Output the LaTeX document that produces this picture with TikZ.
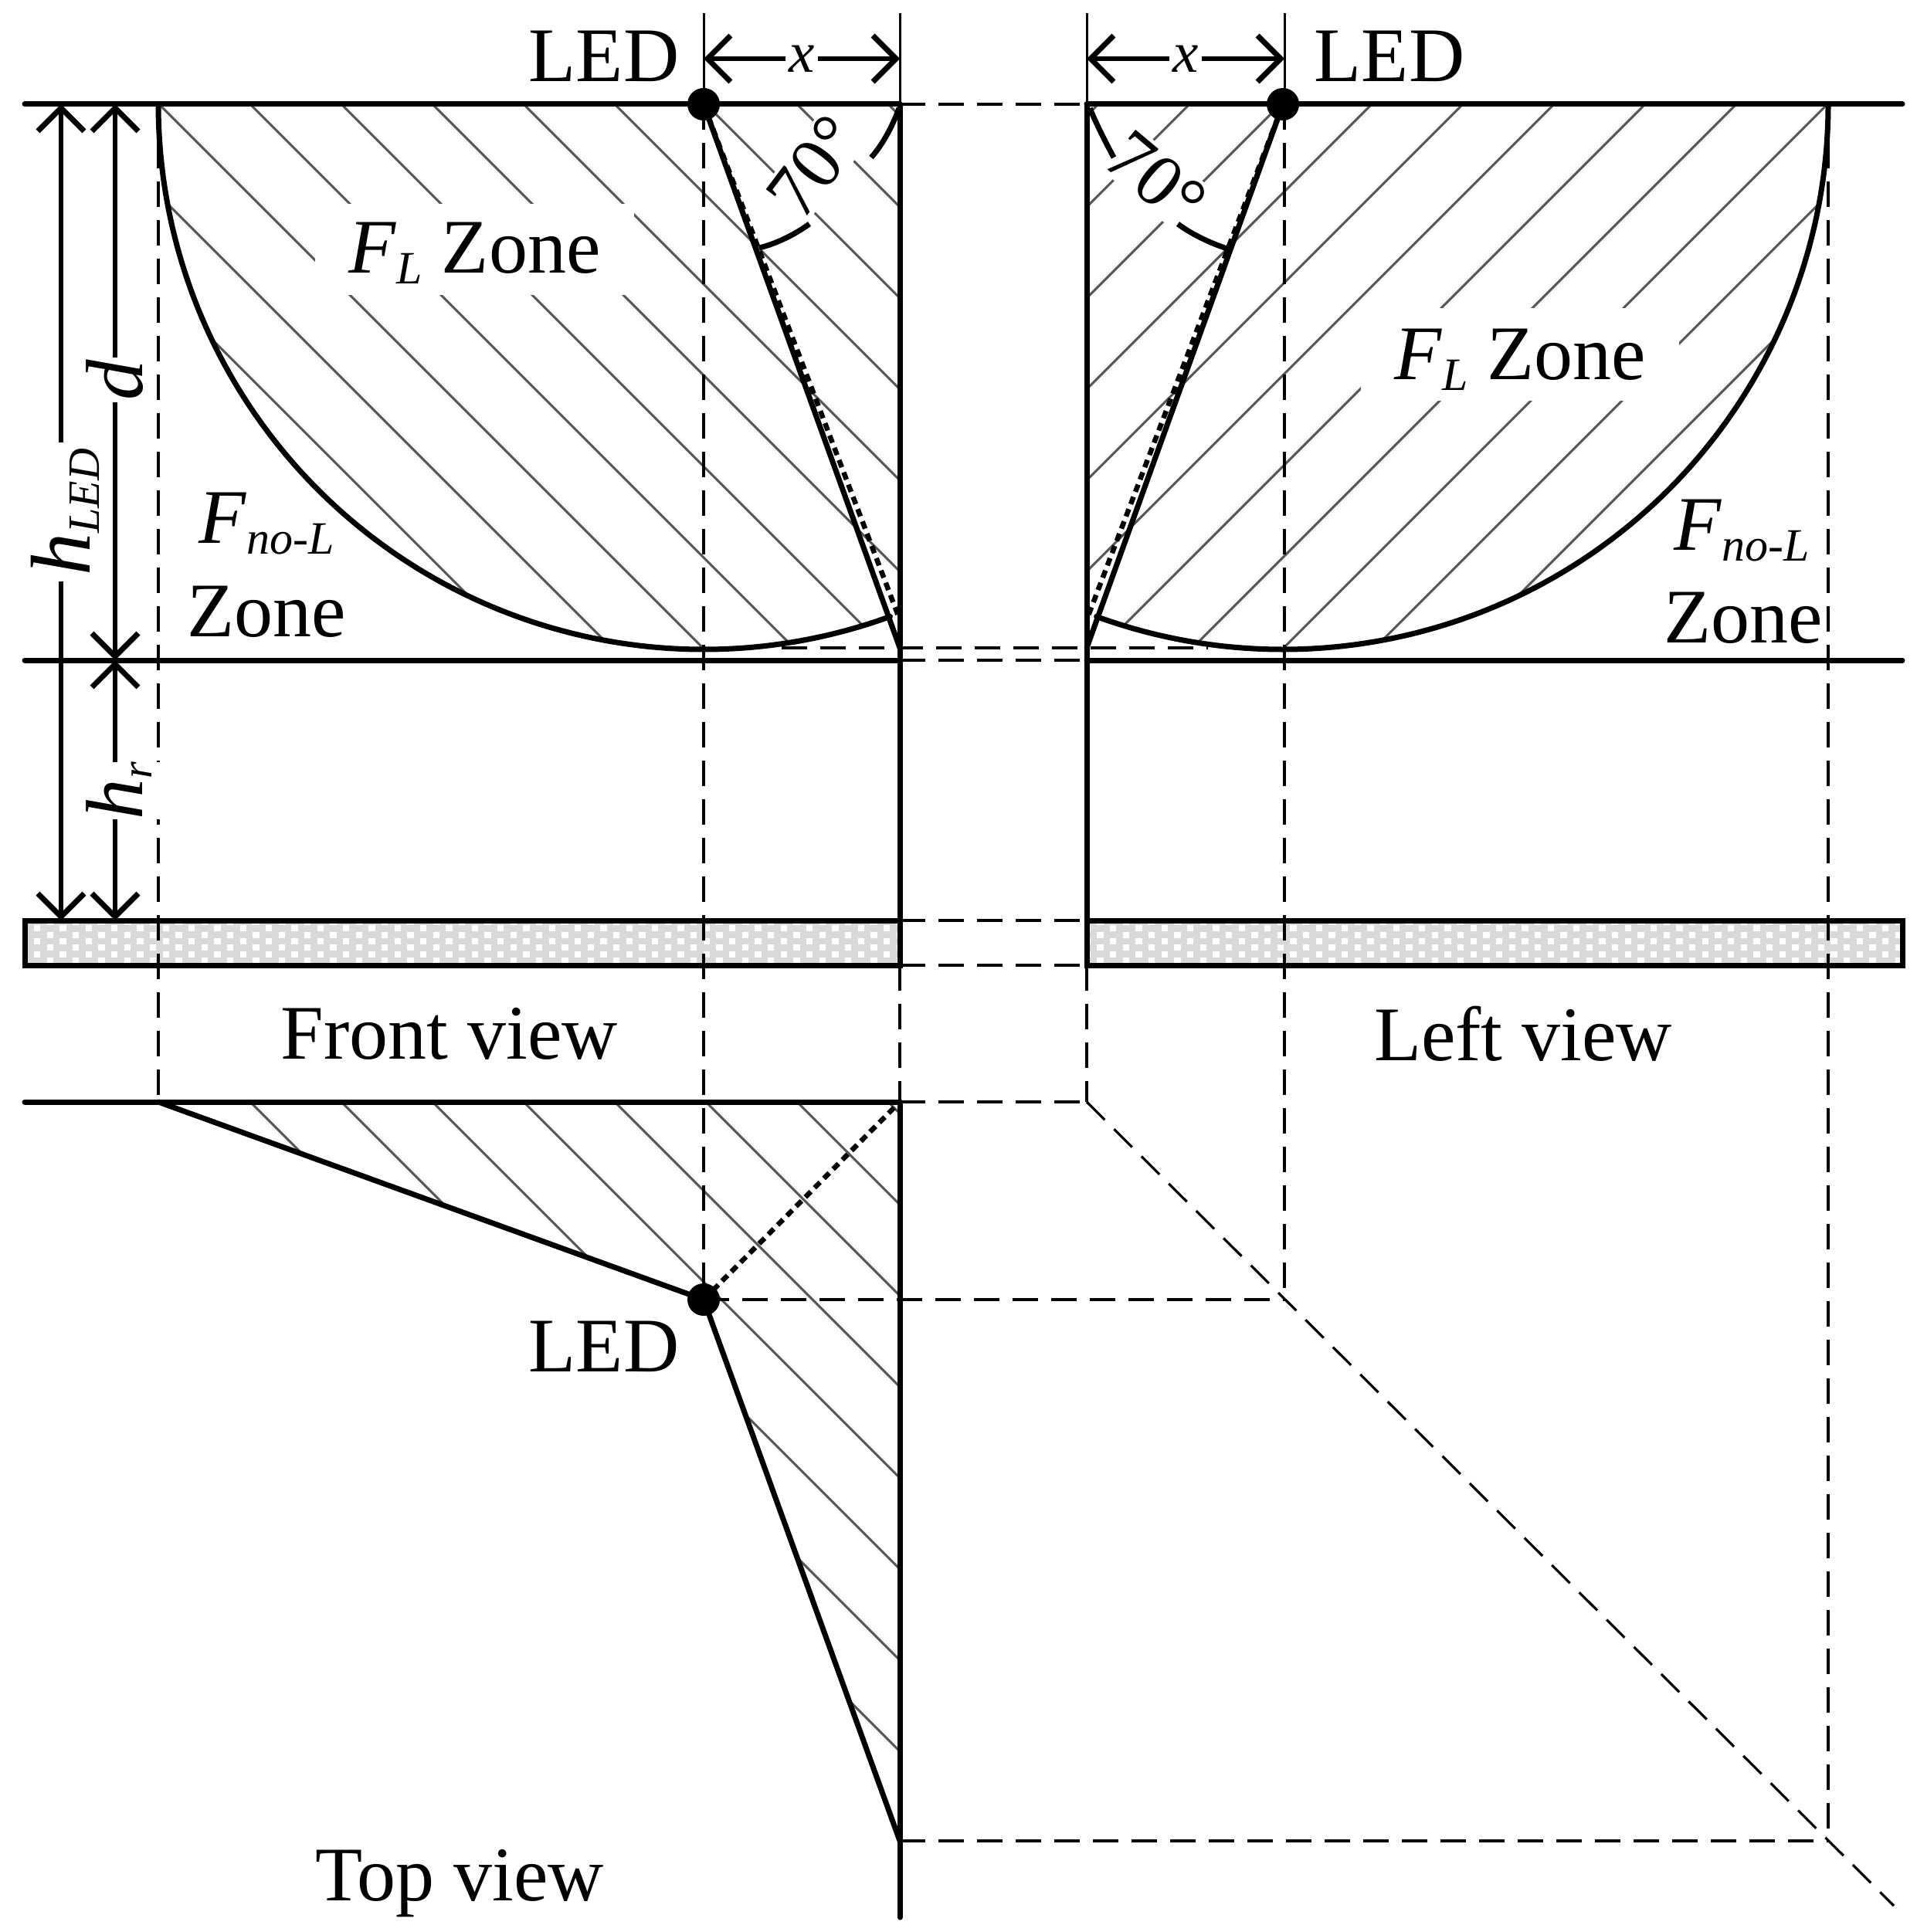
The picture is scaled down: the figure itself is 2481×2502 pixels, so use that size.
\documentclass[tikz,border=0pt]{standalone}
\usepackage{fontspec}
\setmainfont{Liberation Serif}
\usetikzlibrary{arrows.meta}
\newcommand{\txtbig}{\fontsize{100}{110}\selectfont}
\newcommand{\subtxt}[1]{\raisebox{-14pt}{\fontsize{60}{60}\selectfont\textit{#1}}}
\definecolor{floorgray}{HTML}{D9D9D9}
\definecolor{hatchgray}{HTML}{555555}
\tikzset{
	heavy/.style={line width=7pt, line cap=round},
	hair/.style={line width=3pt},
	dashline/.style={line width=3.2pt, dash pattern=on 33pt off 17pt},
	dotline/.style={line width=6.5pt, dash pattern=on 10pt off 7pt},
	hatch/.style={line width=3pt, color=hatchgray},
	dimline/.style={line width=5.5pt, {Straight Barb[length=30pt,width=60pt,line width=7pt]}-{Straight Barb[length=30pt,width=60pt,line width=7pt]}},
	lbl/.style={font=\txtbig, inner sep=0pt, anchor=base},
	mask/.style={lbl, fill=white},
	leddot/.style={circle, fill=black, inner sep=0pt, minimum size=42pt},
}
\begin{document}
\begin{tikzpicture}[x=1pt, y=-1pt]
\useasboundingbox (0,0) rectangle (2481,2502);
\foreach \n/\x/\y in {
	topFa/32/135, topFb/1165/135, topLa/1407/135, topLb/2463/135
	,grdFa/32/855, grdFb/1165/855, grdLa/1407/855, grdLb/2463/855
	,flrFa/32/1192, flrFb/1165/1192, flrFc/1165/1250, flrFd/32/1250
	,flrLa/1407/1192, flrLb/2463/1192, flrLc/2463/1250, flrLd/1407/1250
	%
	,ledF/911/135, ledL/1661/135, ledT/911/1683
	,arcF/205/135, arcL/2367/135, arcFb/205/1427
	,endF/1165/839, endL/1407/839, dotF/1164/800, dotL/1408/800
	,chordA/1012/839, chordB/1564/839
	%
	,viewTa/32/1427, viewTb/1165/1427, viewTc/1165/2384, viewTd/1165/2483
	,diagA/1407/1427, diagB/1663/1683, diagC/2367/2384, diagD/2452/2468
	,vertL/1663/135
	%
	,capA/911/17, capB/1165/17, capC/1407/17, capD/1663/17
	,xa/911/76, xb/1165/76, xc/1407/76, xd/1663/76
	,hla/79/135, hlb/79/1192, dta/149/135, dtb/149/855, dtc/149/1192
}{
	\coordinate(\n) at(\x,\y);
}
% floor slabs
\foreach \u/\v/\s in {flrFa/flrFc/32, flrLa/flrLc/1425}{
	\begin{scope}
	\clip (\u) rectangle (\v);
	\fill[floorgray] (\u) rectangle (\v);
	\foreach \r/\o in {1190/16.7, 1198/0, 1206.5/16.7, 1214.8/0, 1223/16.7, 1231.5/0, 1240/16.7}{
		\foreach \c in {-1,...,34}{
			\fill[white] ({\s+12+\o+\c*33.33},\r) rectangle ++(8.4,8.4);
		}
	}
	\end{scope}
}
% hatching
\begin{scope}
\clip (arcF) arc[start angle=180, end angle=70, radius=706] -- (dotF) -- (topFb) -- cycle;
\foreach \a in {-30,88,...,1150}{
	\draw[hatch] (\a,135) -- ++(900,900);
}
\end{scope}
\begin{scope}
\clip (arcL) arc[start angle=0, end angle=110, radius=706] -- (dotL) -- (topLa) -- cycle;
\foreach \a in {1422,1540,...,2610}{
	\draw[hatch] (\a,135) -- ++(-1000,1000);
}
\end{scope}
\begin{scope}
\clip (arcFb) -- (ledT) -- (viewTc) -- (viewTb) -- cycle;
\foreach \a in {324,442,...,1150}{
	\draw[hatch] (\a,1427) -- ++(1100,1100);
}
\end{scope}
% angle marks
\node[mask, anchor=center, rotate=53, inner sep=4pt, font=\fontsize{96}{96}\selectfont](angF) at(1054,216){70°};
\node[mask, anchor=center, rotate=-40, inner sep=4pt, font=\fontsize{96}{96}\selectfont](angL) at(1497,232){70°};
\draw[heavy, line cap=butt] (983,321) .. controls (1007,315) and (1030,303) .. (1048,290);
\draw[heavy, line cap=butt] (1128,204) .. controls (1142,188) and (1155,165) .. (1164,140);
\draw[heavy, line cap=butt] (1595,324) .. controls (1572,317) and (1545,305) .. (1525,290);
\draw[heavy, line cap=butt] (1442,204) .. controls (1432,185) and (1420,162) .. (1411,140);
\node[mask, minimum width=413pt, text height=89pt, text depth=29pt](zoneF) at(614.5,353){\textit{F}\subtxt{L} Zone};
\node[mask, minimum width=412pt, text height=92pt, text depth=28pt](zoneL) at(1968,491){\textit{F}\subtxt{L} Zone};
% dashed guides
\foreach \u/\v in {%
	arcF/arcFb%
	,ledF/ledT%
	,vertL/diagB%
	,arcL/diagC%
	,flrFc/viewTb%
	,flrLd/diagA%
	,topFb/topLa%
	,chordA/chordB%
	,grdFb/grdLa%
	,flrFb/flrLa%
	,flrFc/flrLd%
	,viewTb/diagA%
	,ledT/diagB%
	,viewTc/diagC%
	,diagA/diagD%
}{
\draw[dashline] (\u) -- (\v);
}
\foreach \u/\v in {capA/ledF, capB/topFb, capC/topLa, capD/vertL}{
\draw[hair] (\u) -- (\v);
}
% outlines
\foreach \u/\v in {%
	topFa/topFb%
	,topLa/topLb%
	,grdFa/grdFb%
	,grdLa/grdLb%
	,topFb/flrFb%
	,topLa/flrLa%
	,viewTa/viewTb%
	,viewTb/viewTd%
	,arcFb/ledT%
	,ledT/viewTc%
	,ledF/endF%
	,ledL/endL%
}{
\draw[heavy] (\u) -- (\v);
}
\draw[heavy] (flrFa) rectangle (flrFc);
\draw[heavy] (flrLa) rectangle (flrLc);
\draw[heavy] (arcF) arc[start angle=180, end angle=70, radius=706];
\draw[heavy] (arcL) arc[start angle=0, end angle=110, radius=706];
\foreach \u/\v in {ledF/dotF, ledL/dotL, ledT/viewTb}{
\draw[dotline] (\u) -- (\v);
}
\node[leddot](dotA) at(ledF){};
\node[leddot](dotB) at(ledL){};
\node[leddot](dotC) at(ledT){};
% dimensions
\draw[dimline] (xa) -- node[mask, anchor=center, inner sep=4pt, font=\fontsize{75}{75}\selectfont](dimxF){\textit{x}} (xb);
\draw[dimline] (xc) -- node[mask, anchor=center, inner sep=4pt, font=\fontsize{75}{75}\selectfont](dimxL){\textit{x}} (xd);
\draw[dimline] (hla) -- (hlb);
\draw[dimline] (dta) -- (dtb);
\draw[dimline] (dtb) -- (dtc);
\node[mask, rotate=90, inner xsep=8pt, inner ysep=2pt](dimh) at(116,663){\fontsize{110}{110}\selectfont\textit{h}\raisebox{-12pt}{\fontsize{58}{58}\selectfont\textit{LED}}};
\node[mask, rotate=90, inner xsep=3pt, inner ysep=2pt](dimd) at(184,492){\fontsize{105}{105}\selectfont\textit{d}};
\node[mask, rotate=90, inner xsep=0pt, inner ysep=15pt](dimr) at(184,1024){\fontsize{105}{105}\selectfont\textit{h}\raisebox{-12pt}{\fontsize{56}{56}\selectfont\textit{r}}};
% labels
\foreach[count=\i] \x/\y/\t in {
	782/106/LED
	,1799/106/LED
	,782/1776/LED
	,582/1371/{Front view}
	,1972/1373/{Left view}
	,595/2461/{Top view}
	,345/824/Zone
	,2257/832/Zone
	,345/703/{\textit{F}\subtxt{no-L}}
	,2255/712/{\textit{F}\subtxt{no-L}}
}{
	\node[lbl](txt\i) at(\x,\y){\t};
}
\end{tikzpicture}
\end{document}
